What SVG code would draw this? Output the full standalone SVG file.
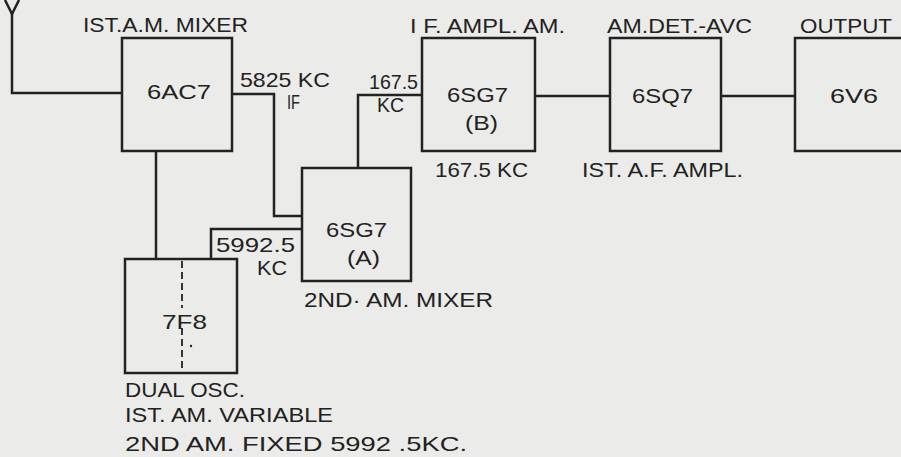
<svg xmlns="http://www.w3.org/2000/svg" width="901" height="457" viewBox="0 0 901 457">
<style>
.bg{fill:#ebebe9}
.box{fill:none;stroke:#222;stroke-width:2.5}
.wire{fill:none;stroke:#222;stroke-width:2.5;stroke-linejoin:miter}
.dash{fill:none;stroke:#222;stroke-width:1.8;stroke-dasharray:7 4}
text{font-family:"Liberation Sans",Arial,sans-serif;font-size:21px;fill:#222}
</style>
<rect class="bg" x="0" y="0" width="901" height="457"/>
<g id="connectors">
<path class="wire" d="M5,0 L12,14 L19,0"/>
<path class="wire" d="M12,12 V93 H122"/>
<path class="wire" d="M232,94 H274 V216 H302"/>
<path class="wire" d="M358,168 V95 H422"/>
<path class="wire" d="M302,229 H211 V259"/>
<path class="wire" d="M156,151 V259"/>
<path class="wire" d="M535,96 H610"/>
<path class="wire" d="M721,96 H795"/>
<text x="240" y="87" textLength="90" lengthAdjust="spacingAndGlyphs">5825 KC</text>
<text x="287" y="109" textLength="13" lengthAdjust="spacingAndGlyphs">IF</text>
<text x="369" y="89" textLength="49" lengthAdjust="spacingAndGlyphs">167.5</text>
<text x="377" y="112" textLength="27" lengthAdjust="spacingAndGlyphs">KC</text>
<text x="216" y="252" textLength="79" lengthAdjust="spacingAndGlyphs">5992.5</text>
<text x="257" y="275" textLength="30" lengthAdjust="spacingAndGlyphs">KC</text>
</g>
<g id="n6AC7">
<rect class="box" x="122" y="38" width="110" height="113"/>
<text x="83" y="32" textLength="165" lengthAdjust="spacingAndGlyphs">IST.A.M. MIXER</text>
<text x="147" y="99" textLength="64" lengthAdjust="spacingAndGlyphs">6AC7</text>
</g>
<g id="n6SG7A">
<rect class="box" x="302" y="168" width="109" height="113"/>
<text x="326" y="237" textLength="61" lengthAdjust="spacingAndGlyphs">6SG7</text>
<text x="347" y="265" textLength="33" lengthAdjust="spacingAndGlyphs">(A)</text>
<text x="304" y="307" textLength="189" lengthAdjust="spacingAndGlyphs">2ND· AM. MIXER</text>
</g>
<g id="n7F8">
<rect class="box" x="125" y="259" width="112" height="114"/>
<path class="dash" d="M182,261 V308 M182,328 V372"/>
<circle cx="191" cy="346" r="1.2" fill="#222"/>
<text x="162" y="329" textLength="45" lengthAdjust="spacingAndGlyphs">7F8</text>
<text x="125" y="397" textLength="120" lengthAdjust="spacingAndGlyphs">DUAL OSC.</text>
<text x="125" y="422" textLength="208" lengthAdjust="spacingAndGlyphs">IST. AM. VARIABLE</text>
<text x="125" y="451" textLength="342" lengthAdjust="spacingAndGlyphs">2ND AM. FIXED 5992 .5KC.</text>
</g>
<g id="n6SG7B">
<rect class="box" x="422" y="38" width="113" height="113"/>
<text x="410" y="33" textLength="155" lengthAdjust="spacingAndGlyphs">I F. AMPL. AM.</text>
<text x="447" y="102" textLength="61" lengthAdjust="spacingAndGlyphs">6SG7</text>
<text x="465" y="130" textLength="33" lengthAdjust="spacingAndGlyphs">(B)</text>
<text x="435" y="177" textLength="93" lengthAdjust="spacingAndGlyphs">167.5 KC</text>
</g>
<g id="n6SQ7">
<rect class="box" x="610" y="38" width="111" height="113"/>
<text x="607" y="33" textLength="145" lengthAdjust="spacingAndGlyphs">AM.DET.-AVC</text>
<text x="632" y="103" textLength="61" lengthAdjust="spacingAndGlyphs">6SQ7</text>
<text x="582" y="177" textLength="161" lengthAdjust="spacingAndGlyphs">IST. A.F. AMPL.</text>
</g>
<g id="n6V6">
<rect class="box" x="795" y="38" width="120" height="113"/>
<text x="800" y="33" textLength="92" lengthAdjust="spacingAndGlyphs">OUTPUT</text>
<text x="830" y="103" textLength="48" lengthAdjust="spacingAndGlyphs">6V6</text>
</g>
</svg>
